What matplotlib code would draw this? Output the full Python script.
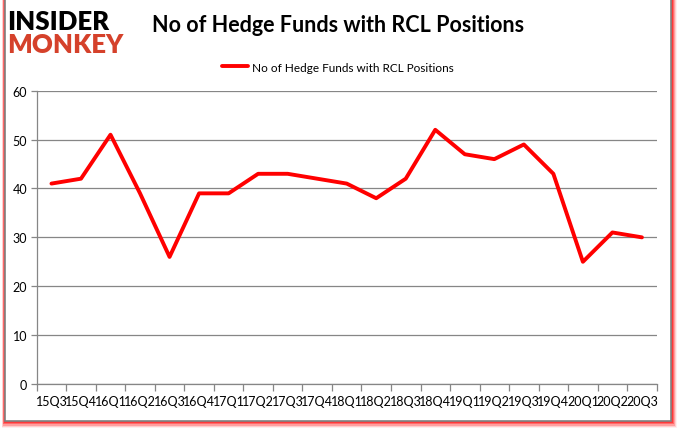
import matplotlib
matplotlib.use("Agg")
import matplotlib.pyplot as plt
from matplotlib.patches import Rectangle

quarters = ["15Q3", "15Q4", "16Q1", "16Q2", "16Q3", "16Q4", "17Q1", "17Q2", "17Q3", "17Q4",
            "18Q1", "18Q2", "18Q3", "18Q4", "19Q1", "19Q2", "19Q3", "19Q4", "20Q1", "20Q2", "20Q3"]
hedge_funds = [41, 42, 51, 39, 26, 39, 39, 43, 43, 42, 41, 38, 42, 52, 47, 46, 49, 43, 25, 31, 30]
series_name = "No of Hedge Funds with RCL Positions"
title = "No of Hedge Funds with RCL Positions"
yticks = [0, 10, 20, 30, 40, 50, 60]

W, H = 677, 431
fig = plt.figure(figsize=(W / 100, H / 100), dpi=100)
fig.patch.set_facecolor("white")

def fx(px):
    return px / W

def fy(py):
    return 1 - py / H

# red shadow around the frame (strongest at the bottom)
for i, a in enumerate([0.15, 0.3, 0.5, 0.75, 1.0]):
    off = 7 - i * 1.2
    fig.patches.append(Rectangle((fx(5 - off * 0.5), fy(422 + off)), fx(666 + off * 1.3), (422 + off) / H,
                                 transform=fig.transFigure, facecolor=(1, 0, 0, a * 0.45),
                                 edgecolor="none", zorder=0))
fig.patches.append(Rectangle((fx(5), fy(422)), fx(666), 422 / H, transform=fig.transFigure,
                             facecolor="white", edgecolor="#808080", linewidth=1.2, zorder=1))

ax = fig.add_axes([fx(36.7), fy(385), fx(656.7 - 36.7), (385 - 91.7) / H])
ax.set_zorder(2)
ax.patch.set_alpha(0)
x = list(range(len(quarters)))
ax.plot(x, hedge_funds, color="#ff0000", linewidth=2.8, solid_joinstyle="round",
        solid_capstyle="round", zorder=3, label=series_name)

ax.set_xlim(-0.5, len(quarters) - 0.5)
ax.set_ylim(0, 60)
ax.set_yticks(yticks)
ax.yaxis.grid(True, color="#868686", linewidth=0.9)
ax.set_axisbelow(True)
for s in ["top", "right"]:
    ax.spines[s].set_visible(False)
for s in ["left", "bottom"]:
    ax.spines[s].set_color("#868686")
    ax.spines[s].set_linewidth(0.9)

ax.set_xticks([i - 0.5 for i in range(len(quarters) + 1)])
ax.set_xticklabels([])
ax.set_xticks(x, minor=True)
ax.set_xticklabels(quarters, minor=True)
ax.tick_params(axis="x", which="major", length=5, color="#868686", width=0.9, direction="out")
ax.tick_params(axis="x", which="minor", length=0, pad=8, labelsize=9)
ax.tick_params(axis="y", length=4, color="#868686", width=0.9, labelsize=9, pad=3)
for lab in ax.get_xticklabels(minor=True) + ax.get_yticklabels():
    lab.set_fontfamily("Lato")

fig.text(fx(338), fy(25), title, ha="center", va="center", fontsize=15.5,
         fontweight="bold", fontfamily="Lato", color="black")

leg = ax.legend(loc="upper center", bbox_to_anchor=(fx(338), fy(52)),
                bbox_transform=fig.transFigure, frameon=False, handlelength=2.2,
                prop={"family": "Lato", "size": 8.5}, handletextpad=0.3)

fig.text(fx(7), fy(22), "INSIDER", ha="left", va="center", fontsize=18.5,
         fontweight="heavy", fontfamily="Lato", color="black")
fig.text(fx(7), fy(45), "MONKEY", ha="left", va="center", fontsize=18.5,
         fontweight="heavy", fontfamily="Lato", color="#d5412b")

fig.savefig("out.png", dpi=100)
